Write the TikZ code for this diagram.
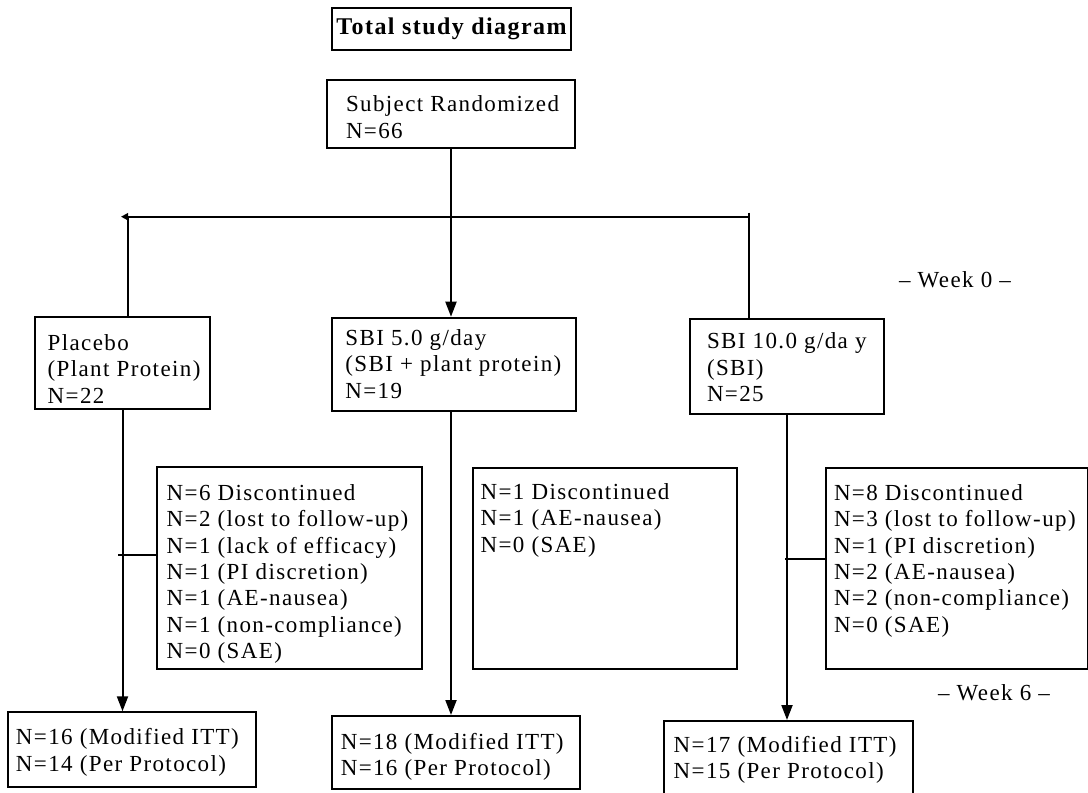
\documentclass[tikz,border=0pt]{standalone}
\usepackage{fontspec}
\setmainfont{Liberation Serif}
\newfontfamily\bodyfont{Liberation Serif}[LetterSpace=6]
\usetikzlibrary{arrows.meta, positioning}
\newcommand{\bodysize}{\bodyfont\fontsize{23pt}{26.3pt}\selectfont}
\newcommand{\titlesize}{\bodyfont\bfseries\fontsize{24pt}{28pt}\selectfont}
\newcommand{\weeksize}{\bodyfont\fontsize{23pt}{26pt}\selectfont}

\begin{document}
\begin{tikzpicture}[x=1pt, y=-1pt, line width=2pt,
    >={Triangle[length=15pt,width=11pt]},
    box/.style={draw, anchor=north west, inner sep=0pt},
    txt/.style={anchor=north west, align=left, inner sep=0pt, font=\bodysize},
    week/.style={font=\weeksize}]
  \useasboundingbox (0,0) rectangle (1088,793);
  % title and randomisation
  \node[box, minimum width=239pt, minimum height=42pt, font=\titlesize] (title) at (331,7) {Total study diagram};
  \node[box, minimum width=248pt, minimum height=68pt,
    label={[txt, xshift=19pt, yshift=-16pt]north west:{Subject Randomized\\N=66}}] (rand) at (326,79) {};
  % arms
  \node[box, minimum width=175pt, minimum height=92.3pt,
    label={[txt, xshift=12.7pt, yshift=-18pt]north west:{Placebo\\(Plant Protein)\\N=22}}] (plac) at (34,315.7) {};
  \node[box, minimum width=244pt, minimum height=93.3pt,
    label={[txt, xshift=13.4pt, yshift=-12pt]north west:{SBI 5.0 g/day\\(SBI + plant protein)\\N=19}}] (sbi5) at (331,316.7) {};
  \node[box, minimum width=194pt, minimum height=95pt,
    label={[txt, xshift=17pt, yshift=-14.3pt]north west:{SBI 10.0 g/da y\\(SBI)\\N=25}}] (sbi10) at (689,317.7) {};
  \node[week] (wk0) at (955,280) {– Week 0 –};
  % dropouts
  \node[box, minimum width=265pt, minimum height=202pt,
    label={[txt, xshift=9.7pt, yshift=-17.7pt]north west:{N=6 Discontinued\\N=2 (lost to follow-up)\\N=1 (lack of efficacy)\\N=1 (PI discretion)\\N=1 (AE-nausea)\\N=1 (non-compliance)\\N=0 (SAE)}}] (drop1) at (156,466) {};
  \node[box, minimum width=264pt, minimum height=201.3pt,
    label={[txt, xshift=7.6pt, yshift=-16pt]north west:{N=1 Discontinued\\N=1 (AE-nausea)\\N=0 (SAE)}}] (drop2) at (472,466.7) {};
  \node[box, minimum width=262pt, minimum height=201pt,
    label={[txt, xshift=8pt, yshift=-16.7pt]north west:{N=8 Discontinued\\N=3 (lost to follow-up)\\N=1 (PI discretion)\\N=2 (AE-nausea)\\N=2 (non-compliance)\\N=0 (SAE)}}] (drop3) at (825,467) {};
  \node[week] (wk6) at (994,693) {– Week 6 –};
  % analysed
  \node[box, minimum width=248pt, minimum height=74.4pt,
    label={[txt, xshift=7.7pt, yshift=-16.4pt]north west:{N=16 (Modified ITT)\\N=14 (Per Protocol)}}] (out1) at (7.3,711.3) {};
  \node[box, minimum width=247.6pt, minimum height=73pt,
    label={[txt, xshift=8.8pt, yshift=-17pt]north west:{N=18 (Modified ITT)\\N=16 (Per Protocol)}}] (out2) at (331,715) {};
  \node[box, minimum width=249pt, minimum height=80pt,
    label={[txt, xshift=9.7pt, yshift=-15pt]north west:{N=17 (Modified ITT)\\N=15 (Per Protocol)}}] (out3) at (663,720) {};

  % split line
  \coordinate (bl) at (121,216.7);
  \coordinate (pl) at (128,216.7);
  \coordinate (br) at (749,216.7);
  \draw[-{Triangle[length=7pt,width=7pt]}] (br) -- (bl);
  \draw (pl) -- (pl |- plac.north);
  \draw ([yshift=4pt]br) -- (br |- sbi10.north);
  \draw[->] (rand.south) -- (rand.south |- sbi5.north);
  % follow-up lines
  \draw[->] (plac.south) -- (plac.south |- out1.north);
  \draw[->] (rand.south |- sbi5.south) -- (rand.south |- out2.north);
  \draw[->] (sbi10.south) -- (sbi10.south |- out3.north);
  \coordinate (j1) at (118,555.3);
  \draw (j1) -- (j1 -| drop1.west);
  \coordinate (j3) at (785,559);
  \draw (j3) -- (j3 -| drop3.west);
\end{tikzpicture}
\end{document}
